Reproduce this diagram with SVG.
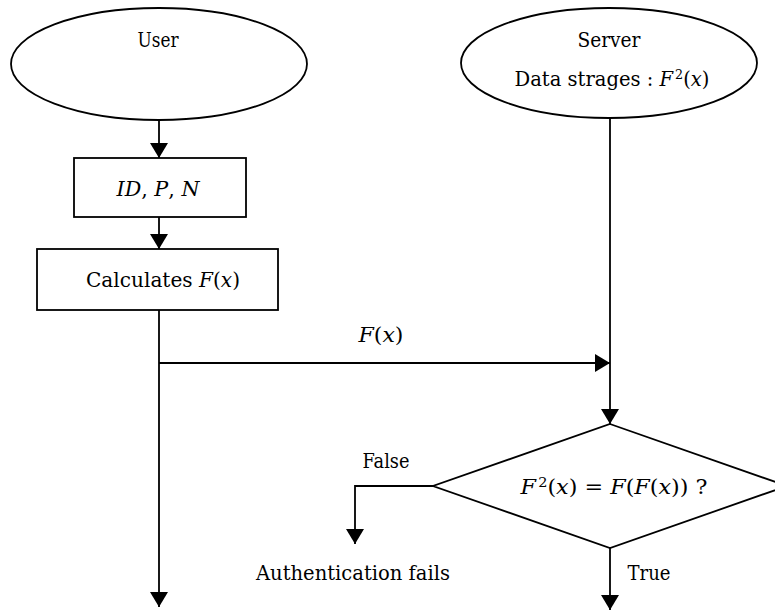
<svg xmlns="http://www.w3.org/2000/svg" width="775" height="615" viewBox="0 0 775 615">
  <style>
    .shape { fill: #fff; stroke: #000; stroke-width: 1.8; }
    .link { fill: none; stroke: #000; stroke-width: 1.8; marker-end: url(#arrow); }
    text { font-size: 20px; fill: #000; text-anchor: middle; }
    .m { font-style: italic; }
    .sup { font-size: 13px; baseline-shift: 7px; }
  </style>
  <defs>
    <marker id="arrow" markerUnits="userSpaceOnUse" markerWidth="16" markerHeight="18" refX="15" refY="9" orient="auto">
      <path d="M0,0 L15,9 L0,18 z" fill="#000"/>
    </marker>
  </defs>

  <g font-family="'DejaVu Serif', 'Liberation Serif', serif">
  <!-- connectors -->
  <g id="connectors">
    <path class="link" d="M159,121 V158"/>
    <path class="link" d="M159,217 V249"/>
    <path class="link" d="M159,310 V607"/>
    <path class="link" d="M159,363 H610"/>
    <path class="link" d="M610,118 V424"/>
    <path class="link" d="M433,486 H355 V544"/>
    <path class="link" d="M610,548 V610"/>
    <text x="381" y="342" textLength="45" lengthAdjust="spacingAndGlyphs"><tspan class="m">F</tspan>(<tspan class="m">x</tspan>)</text>
    <text x="386" y="468" textLength="47" lengthAdjust="spacingAndGlyphs">False</text>
    <text x="353" y="580" textLength="194" lengthAdjust="spacingAndGlyphs">Authentication fails</text>
    <text x="649" y="580" textLength="43" lengthAdjust="spacingAndGlyphs">True</text>
  </g>

  <!-- user side -->
  <g id="user">
    <ellipse class="shape" cx="159" cy="64" rx="148" ry="56"/>
    <text x="158" y="47" textLength="41" lengthAdjust="spacingAndGlyphs">User</text>
  </g>
  <g id="credentials">
    <rect class="shape" x="74" y="158" width="172" height="59"/>
    <text x="158" y="196" class="m" textLength="83" lengthAdjust="spacingAndGlyphs">ID<tspan font-style="normal">, </tspan>P<tspan font-style="normal">, </tspan>N</text>
  </g>
  <g id="calculate">
    <rect class="shape" x="37" y="249" width="241" height="61"/>
    <text x="163" y="287" textLength="154" lengthAdjust="spacingAndGlyphs">Calculates <tspan class="m">F</tspan>(<tspan class="m">x</tspan>)</text>
  </g>

  <!-- server side -->
  <g id="server">
    <ellipse class="shape" cx="609" cy="63" rx="148" ry="55"/>
    <text x="609" y="47" textLength="63" lengthAdjust="spacingAndGlyphs">Server</text>
    <text x="612" y="86" textLength="195" lengthAdjust="spacingAndGlyphs">Data strages : <tspan class="m">F</tspan><tspan class="sup" dx="2">2</tspan>(<tspan class="m">x</tspan>)</text>
  </g>
  <g id="check">
    <path class="shape" d="M610,424 L787,486 L610,548 L433,486 Z"/>
    <text x="614" y="494" textLength="187" lengthAdjust="spacingAndGlyphs"><tspan class="m">F</tspan><tspan class="sup" dx="2">2</tspan>(<tspan class="m">x</tspan>) = <tspan class="m">F</tspan>(<tspan class="m">F</tspan>(<tspan class="m">x</tspan>)) ?</text>
  </g>
  </g>
</svg>
